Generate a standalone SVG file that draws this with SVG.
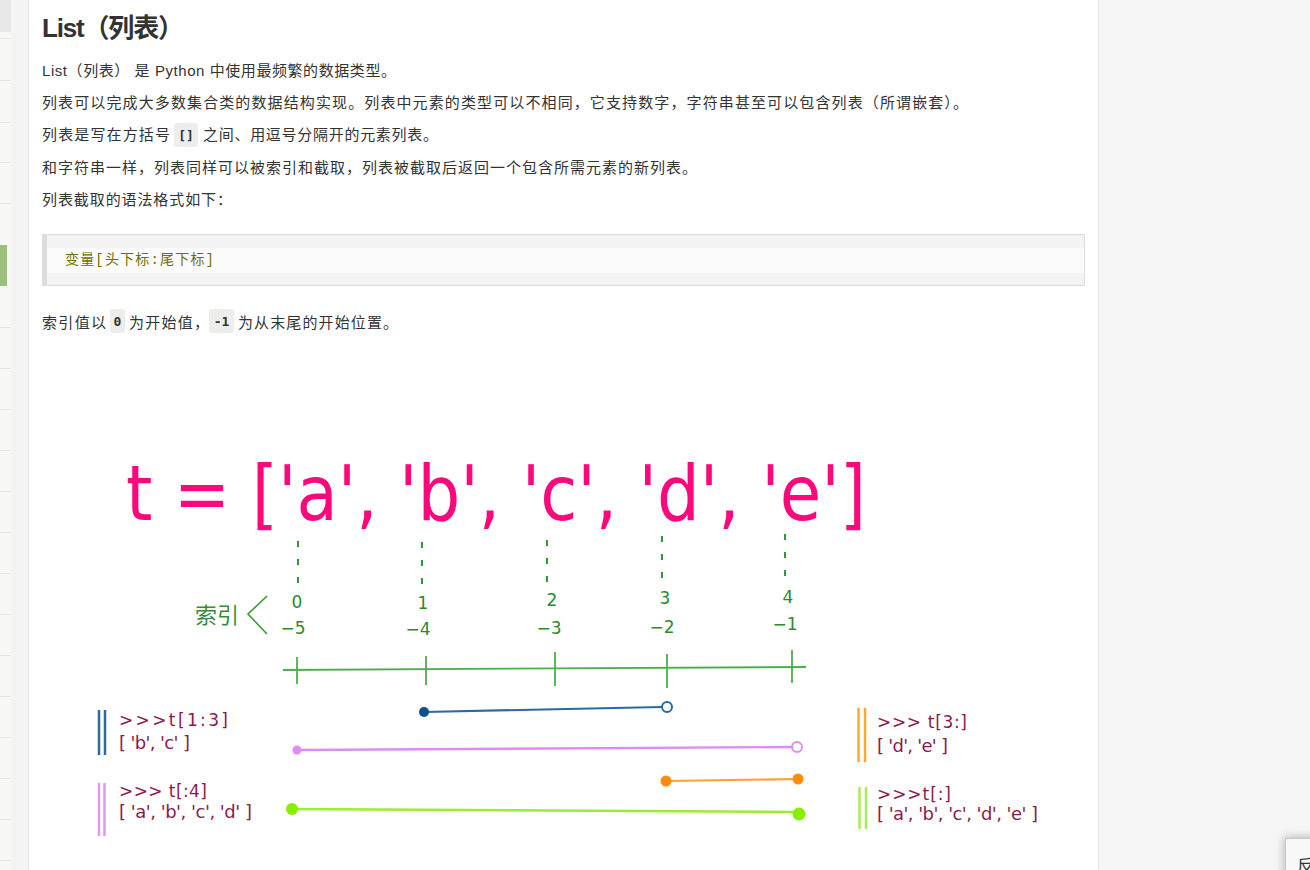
<svg xmlns="http://www.w3.org/2000/svg" width="1310" height="870" viewBox="0 0 1310 870">
<defs>
<style>
.p{font-family:"Liberation Sans","Noto Sans CJK SC",sans-serif;font-size:15px;fill:#333}
.h{font-family:"Liberation Sans","Noto Sans CJK SC",sans-serif;font-size:26px;font-weight:bold;fill:#333}
.ic{fill:#ededeb}
.ict{font-family:"DejaVu Sans Mono","Liberation Mono",monospace;font-size:13px;font-weight:bold;fill:#333;text-anchor:middle}
.code{font-family:"Liberation Mono","Noto Sans CJK SC",monospace;font-size:14px;fill:#707000}
.big{font-family:"DejaVu Sans",sans-serif;font-size:77px;fill:#fa087c}
.num{font-family:"DejaVu Sans",sans-serif;font-size:17px;fill:#2b8a2b;text-anchor:middle}
.dash{stroke:#2f9a3a;stroke-width:2;stroke-dasharray:6 12;fill:none}
.lab{font-family:"DejaVu Sans",sans-serif;font-size:17px;fill:#8a1a4c}
.lst{font-size:18px}
.sep{stroke:#e4e4e0;stroke-width:1}
</style>
<filter id="sh" x="-50%" y="-50%" width="200%" height="200%"><feGaussianBlur stdDeviation="4"/></filter>
<clipPath id="cw"><rect x="1286" y="839" width="30" height="40"/></clipPath>
</defs>

<g id="page">
<rect x="0" y="0" width="1310" height="870" fill="#ffffff"/>
<rect x="0" y="0" width="11" height="870" fill="#f7f7f4"/>
<rect x="0" y="0" width="11" height="32" fill="#e8e8e8"/>
<g class="sep">
<line x1="0" y1="38.5" x2="11" y2="38.5"/><line x1="0" y1="80.5" x2="11" y2="80.5"/><line x1="0" y1="122.5" x2="11" y2="122.5"/><line x1="0" y1="162.5" x2="11" y2="162.5"/><line x1="0" y1="203.5" x2="11" y2="203.5"/><line x1="0" y1="327.5" x2="11" y2="327.5"/><line x1="0" y1="368.5" x2="11" y2="368.5"/><line x1="0" y1="409.5" x2="11" y2="409.5"/><line x1="0" y1="450.5" x2="11" y2="450.5"/><line x1="0" y1="491.5" x2="11" y2="491.5"/><line x1="0" y1="532.5" x2="11" y2="532.5"/><line x1="0" y1="573.5" x2="11" y2="573.5"/><line x1="0" y1="614.5" x2="11" y2="614.5"/><line x1="0" y1="655.5" x2="11" y2="655.5"/><line x1="0" y1="696.5" x2="11" y2="696.5"/><line x1="0" y1="737.5" x2="11" y2="737.5"/><line x1="0" y1="778.5" x2="11" y2="778.5"/><line x1="0" y1="819.5" x2="11" y2="819.5"/><line x1="0" y1="860.5" x2="11" y2="860.5"/>
</g>
<rect x="0" y="245" width="7" height="41" fill="#9cbf80"/>
<rect x="11" y="0" width="17" height="870" fill="#f4f4f4"/>
<line x1="28.5" y1="0" x2="28.5" y2="870" stroke="#e6e6e6"/>
<rect x="1098" y="0" width="212" height="870" fill="#f5f5f5"/>
<line x1="1098.5" y1="0" x2="1098.5" y2="870" stroke="#ebebeb"/>
</g>

<g id="article-text">
<text class="h" x="42" y="37" textLength="142" lengthAdjust="spacing">List（列表）</text>
<text class="p" x="42" y="76" textLength="354" lengthAdjust="spacing">List（列表） 是 Python 中使用最频繁的数据类型。</text>
<text class="p" x="42" y="108" textLength="926" lengthAdjust="spacing">列表可以完成大多数集合类的数据结构实现。列表中元素的类型可以不相同，它支持数字，字符串甚至可以包含列表（所谓嵌套）。</text>
<text class="p" x="42" y="140" textLength="128" lengthAdjust="spacing">列表是写在方括号</text>
<rect class="ic" x="174" y="123" width="24" height="24" rx="3"/>
<text class="ict" x="186" y="140">[]</text>
<text class="p" x="203" y="140" textLength="235" lengthAdjust="spacing">之间、用逗号分隔开的元素列表。</text>
<text class="p" x="42" y="173" textLength="655" lengthAdjust="spacing">和字符串一样，列表同样可以被索引和截取，列表被截取后返回一个包含所需元素的新列表。</text>
<text class="p" x="42" y="205" textLength="190" lengthAdjust="spacing">列表截取的语法格式如下：</text>
</g>

<g id="code-block">
<rect x="42.5" y="234.5" width="1042" height="51" fill="#f3f3f3" stroke="#dcdcdc"/>
<rect x="47" y="248" width="1037" height="25" fill="#fbfbfb"/>
<rect x="42" y="234" width="5" height="52" fill="#dcdcdc"/>
<text class="code" x="65" y="264" textLength="149" lengthAdjust="spacing">变量[头下标:尾下标]</text>
</g>

<g id="index-note">
<text class="p" x="42" y="328" textLength="64" lengthAdjust="spacing">索引值以</text>
<rect class="ic" x="110" y="309" width="15" height="24" rx="3"/>
<text class="ict" x="117.5" y="326">0</text>
<text class="p" x="129" y="328" textLength="80" lengthAdjust="spacing">为开始值，</text>
<rect class="ic" x="209" y="309" width="25" height="24" rx="3"/>
<text class="ict" x="221.5" y="326">-1</text>
<text class="p" x="238" y="328" textLength="160" lengthAdjust="spacing">为从末尾的开始位置。</text>
</g>

<g id="list-title">
<text class="big" transform="translate(126,520) scale(0.875,1)" x="0" y="0">t = ['a', 'b', 'c', 'd', 'e']</text>
</g>

<g id="index-dashes">
<line class="dash" x1="298" y1="541" x2="298" y2="584"/>
<line class="dash" x1="422" y1="542" x2="422" y2="585"/>
<line class="dash" x1="547" y1="540" x2="547" y2="583"/>
<line class="dash" x1="662" y1="536" x2="662" y2="580"/>
<line class="dash" x1="785" y1="534" x2="785" y2="578"/>
</g>

<g id="index-label">
<text x="195" y="623" font-family="Noto Sans CJK SC, sans-serif" font-size="22" fill="#3a8a3a">索引</text>
<polyline points="267,596 248,614 267,634" fill="none" stroke="#3a9a3a" stroke-width="1.6"/>
</g>

<g id="index-numbers">
<text class="num" x="297" y="608">0</text>
<text class="num" x="423" y="609">1</text>
<text class="num" x="552" y="606">2</text>
<text class="num" x="665" y="604">3</text>
<text class="num" x="788" y="603">4</text>
<text class="num" x="293" y="634">−5</text>
<text class="num" x="418" y="635">−4</text>
<text class="num" x="549" y="634">−3</text>
<text class="num" x="662" y="633">−2</text>
<text class="num" x="785" y="630">−1</text>
</g>

<g id="connectors">
<g stroke="#4cae4c" stroke-width="1.8" fill="none">
<line x1="283" y1="670" x2="806" y2="667"/>
<line x1="297" y1="657" x2="297" y2="684"/>
<line x1="426" y1="656" x2="426" y2="685"/>
<line x1="555" y1="652" x2="555" y2="686"/>
<line x1="667" y1="654" x2="667" y2="688"/>
<line x1="792" y1="650" x2="792" y2="683"/>
</g>
<line x1="424" y1="712" x2="662" y2="707" stroke="#2b6a9c" stroke-width="2.2"/>
<circle cx="424" cy="712" r="5" fill="#0d4f8b"/>
<circle cx="667" cy="707" r="5" fill="#ffffff" stroke="#2b6a9c" stroke-width="2"/>
<line x1="297" y1="750" x2="792" y2="747" stroke="#dd8cf5" stroke-width="2.4"/>
<circle cx="297" cy="750" r="4.5" fill="#dd8cf5"/>
<circle cx="797" cy="747" r="5" fill="#ffffff" stroke="#dd8cf5" stroke-width="2"/>
<line x1="666" y1="781" x2="798" y2="779" stroke="#ffa030" stroke-width="2.2"/>
<circle cx="666" cy="781" r="5.5" fill="#ff8c10"/>
<circle cx="798" cy="779" r="5.5" fill="#ff8c10"/>
<line x1="292" y1="809" x2="799" y2="812" stroke="#99ee33" stroke-width="2.4"/>
<circle cx="292" cy="809" r="6" fill="#88ee00"/>
<circle cx="799" cy="814" r="6.5" fill="#88ee00"/>
</g>

<g id="slice-1-3">
<line x1="99" y1="710" x2="99" y2="755" stroke="#2f6a9a" stroke-width="2.5"/>
<line x1="105" y1="710" x2="105" y2="755" stroke="#2f6a9a" stroke-width="2.5"/>
<text class="lab" x="119" y="726" textLength="109" lengthAdjust="spacing">&gt;&gt;&gt;t[1:3]</text>
<text class="lab lst" x="119" y="749" textLength="71" lengthAdjust="spacing">[ 'b', 'c' ]</text>
</g>

<g id="slice-to-4">
<line x1="99" y1="783" x2="99" y2="836" stroke="#d99af0" stroke-width="2.5"/>
<line x1="104.5" y1="783" x2="104.5" y2="836" stroke="#d99af0" stroke-width="2.5"/>
<text class="lab" x="119" y="797" textLength="88" lengthAdjust="spacing">&gt;&gt;&gt; t[:4]</text>
<text class="lab lst" x="119" y="818" textLength="133" lengthAdjust="spacing">[ 'a', 'b', 'c', 'd' ]</text>
</g>

<g id="slice-3-end">
<line x1="858.5" y1="708" x2="858.5" y2="762" stroke="#ffa733" stroke-width="2.5"/>
<line x1="865" y1="708" x2="865" y2="762" stroke="#ffa733" stroke-width="2.5"/>
<text class="lab" x="877" y="728" textLength="90" lengthAdjust="spacing">&gt;&gt;&gt; t[3:]</text>
<text class="lab lst" x="877" y="752" textLength="71" lengthAdjust="spacing">[ 'd', 'e' ]</text>
</g>

<g id="slice-all">
<line x1="859.5" y1="787" x2="859.5" y2="829" stroke="#a6ee55" stroke-width="2.5"/>
<line x1="866" y1="787" x2="866" y2="829" stroke="#a6ee55" stroke-width="2.5"/>
<text class="lab" x="877" y="800" textLength="74" lengthAdjust="spacing">&gt;&gt;&gt;t[:]</text>
<text class="lab lst" x="877" y="820" textLength="161" lengthAdjust="spacing">[ 'a', 'b', 'c', 'd', 'e' ]</text>
</g>

<g id="feedback-widget">
<rect x="1284" y="837" width="40" height="44" fill="#000" opacity="0.25" filter="url(#sh)"/>
<rect x="1285.5" y="838.5" width="30" height="40" fill="#f8f8f8" stroke="#c8c8c8"/>
<text x="1297" y="872" clip-path="url(#cw)" font-family="Noto Sans CJK SC, sans-serif" font-size="17" fill="#333">反</text>
</g>
</svg>
